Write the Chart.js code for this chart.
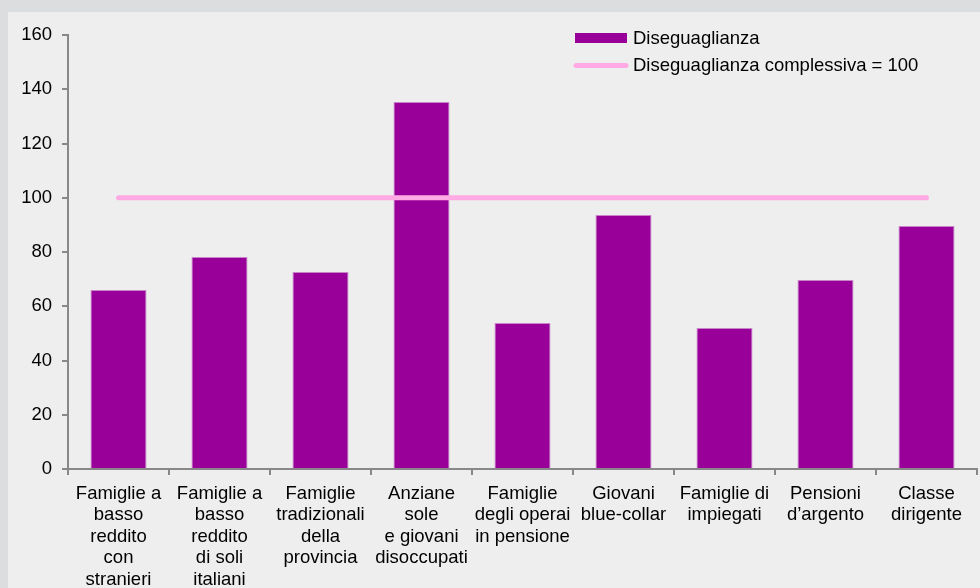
<!DOCTYPE html>
<html>
<head>
<meta charset="utf-8">
<script src="https://cdn.jsdelivr.net/npm/chart.js@4/dist/chart.umd.min.js"></script>
<style>
html,body{margin:0;padding:0;background:#dcdddf;}
#c{display:block;}
</style>
</head>
<body>
<canvas id="c" width="980" height="588"></canvas>
<script>
const categories = [
  ["Famiglie a","basso","reddito","con","stranieri"],
  ["Famiglie a","basso","reddito","di soli","italiani"],
  ["Famiglie","tradizionali","della","provincia"],
  ["Anziane","sole","e giovani","disoccupati"],
  ["Famiglie","degli operai","in pensione"],
  ["Giovani","blue-collar"],
  ["Famiglie di","impiegati"],
  ["Pensioni","d\u2019argento"],
  ["Classe","dirigente"]
];
const disuguaglianza = [66.0, 78.2, 72.6, 135.3, 53.8, 93.6, 52.0, 69.7, 89.6];
const complessiva = [100, 100, 100, 100, 100, 100, 100, 100, 100];
const yTicks = [0, 20, 40, 60, 80, 100, 120, 140, 160];
const seriesLabels = ["Diseguaglianza", "Diseguaglianza complessiva = 100"];

const FONT = "'Liberation Sans', Arial, sans-serif";
const FS = 18.5;

const bgPlugin = {
  id: 'bg',
  beforeDraw(chart) {
    const ctx = chart.ctx;
    ctx.save();
    ctx.fillStyle = '#dcdddf';
    ctx.fillRect(0, 0, chart.width, chart.height);
    ctx.fillStyle = '#eeeeee';
    ctx.fillRect(8, 12, chart.width - 8, chart.height - 12);
    ctx.restore();
  }
};

const legendPlugin = {
  id: 'customLegend',
  afterDraw(chart) {
    const ctx = chart.ctx;
    const ds = chart.data.datasets;
    ctx.save();
    ctx.font = FS + 'px ' + FONT;
    ctx.textBaseline = 'middle';
    ctx.fillStyle = ds[0].backgroundColor;
    ctx.fillRect(575, 33, 52, 10);
    ctx.fillStyle = '#000';
    ctx.fillText(ds[0].label, 633, 38.5);
    ctx.strokeStyle = ds[1].borderColor;
    ctx.lineWidth = 5;
    ctx.lineCap = 'round';
    ctx.beginPath();
    ctx.moveTo(576, 65.5);
    ctx.lineTo(626, 65.5);
    ctx.stroke();
    ctx.fillText(ds[1].label, 633, 65.5);
    ctx.restore();
  }
};

new Chart(document.getElementById('c'), {
  type: 'bar',
  data: {
    labels: categories,
    datasets: [
      {
        type: 'bar',
        label: seriesLabels[0],
        data: disuguaglianza,
        backgroundColor: '#990099',
        borderColor: '#c985c9',
        borderWidth: 1,
        barPercentage: 0.555,
        categoryPercentage: 1.0,
        order: 1
      },
      {
        type: 'line',
        label: seriesLabels[1],
        data: complessiva,
        borderColor: '#ffaae4',
        backgroundColor: '#ffaae4',
        borderWidth: 5,
        borderCapStyle: 'round',
        pointRadius: 0,
        pointHoverRadius: 0,
        fill: false,
        order: 0
      }
    ]
  },
  options: {
    responsive: false,
    animation: false,
    devicePixelRatio: 1,
    layout: { padding: { top: 35, right: 3, left: 0, bottom: 0 } },
    plugins: {
      legend: { display: false },
      title: { display: false },
      tooltip: { enabled: false }
    },
    scales: {
      x: {
        offset: true,
        grid: {
          display: true,
          offset: true,
          drawOnChartArea: false,
          drawTicks: true,
          tickLength: 6,
          color: '#888888',
          lineWidth: 2
        },
        border: { display: true, color: '#888888', width: 2 },
        ticks: {
          color: '#000',
          font: { family: FONT, size: FS, lineHeight: 21.5 / FS },
          padding: 8,
          maxRotation: 0,
          autoSkip: false
        },
        afterFit(scale) { scale.height = 119; }
      },
      y: {
        min: 0,
        max: 160,
        afterBuildTicks(scale) { scale.ticks = yTicks.map(v => ({ value: v })); },
        grid: {
          display: true,
          drawOnChartArea: false,
          drawTicks: true,
          tickLength: 6,
          color: '#888888',
          lineWidth: 2
        },
        border: { display: true, color: '#888888', width: 2 },
        ticks: {
          color: '#000',
          font: { family: FONT, size: FS },
          padding: 10
        },
        afterFit(scale) { scale.width = 68; }
      }
    }
  },
  plugins: [bgPlugin, legendPlugin]
});
</script>
</body>
</html>
